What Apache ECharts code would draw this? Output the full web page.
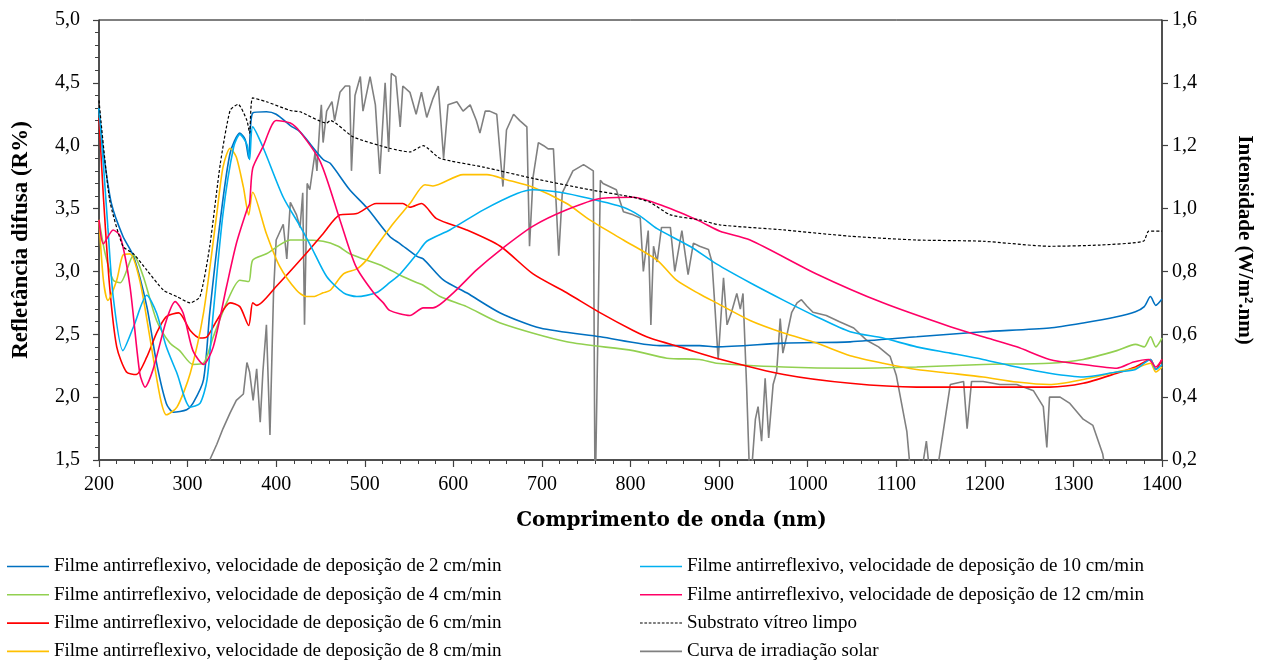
<!DOCTYPE html>
<html>
<head>
<meta charset="utf-8">
<script src="https://cdn.jsdelivr.net/npm/echarts@6/dist/echarts.min.js"></script>
<style>
  html, body { margin: 0; padding: 0; background: #ffffff; }
  #chart { width: 1271px; height: 662px; }
</style>
</head>
<body>
<div id="chart"></div>
<script>
// ---- Axis ticks ----
const xTicks = [200, 300, 400, 500, 600, 700, 800, 900, 1000, 1100, 1200, 1300, 1400];
const leftTicks = [1.5, 2.0, 2.5, 3.0, 3.5, 4.0, 4.5, 5.0];
const rightTicks = [0.2, 0.4, 0.6, 0.8, 1.0, 1.2, 1.4, 1.6];

// ---- Series names ----
const names = [
  'Filme antirreflexivo, velocidade de deposição de 2 cm/min',
  'Filme antirreflexivo, velocidade de deposição de 4 cm/min',
  'Filme antirreflexivo, velocidade de deposição de 6 cm/min',
  'Filme antirreflexivo, velocidade de deposição de 8 cm/min',
  'Filme antirreflexivo, velocidade de deposição de 10 cm/min',
  'Filme antirreflexivo, velocidade de deposição de 12 cm/min',
  'Substrato vítreo limpo',
  'Curva de irradiação solar'
];

// ---- 2 cm/min ----
const wl2 = [200,205,214,227,239,254,265,276,284,299,306,318,325,337,348,359,365,369,373.5,389,400,416,427,453,461,483,502,528,540,559,566,589,615,653,698,766,833,878,897,973,1048,1123,1198,1273,1311,1349,1370,1380,1387,1393,1400];
const r2 = [4.30,3.95,3.54,3.28,3.12,2.72,2.27,1.95,1.88,1.90,1.95,2.14,2.67,3.41,3.94,4.10,4.05,3.90,4.26,4.27,4.25,4.16,4.11,3.89,3.86,3.65,3.51,3.28,3.22,3.12,3.10,2.93,2.83,2.67,2.55,2.48,2.41,2.41,2.40,2.43,2.44,2.48,2.52,2.55,2.59,2.64,2.68,2.72,2.80,2.73,2.78];

// ---- 4 cm/min ----
const wl4 = [200,207,216,224,239,250,265,280,291,306,318,329,344,359,369,373.5,389,416,427,453,470,483,502,521,540,559,566,585,615,653,728,803,841,878,897,973,1048,1123,1198,1273,1311,1349,1370,1380,1387,1393,1400];
const r4 = [3.41,3.14,2.93,2.91,3.13,2.96,2.61,2.43,2.37,2.26,2.27,2.48,2.75,2.93,2.92,3.09,3.14,3.25,3.25,3.24,3.20,3.14,3.09,3.04,2.97,2.91,2.89,2.80,2.72,2.59,2.44,2.37,2.31,2.30,2.27,2.24,2.23,2.24,2.26,2.27,2.30,2.37,2.42,2.40,2.48,2.40,2.47];

// ---- 6 cm/min ----
const wl6 = [200,205,212,220,231,242,254,265,276,290,303,314,322,333,348,359,369,373.5,378,400,431,453,472,491,513,543,551,564,581,615,653,690,728,766,803,822,860,897,973,1048,1123,1198,1273,1311,1349,1370,1387,1393,1400];
const r6 = [4.22,3.59,2.88,2.40,2.20,2.18,2.32,2.51,2.64,2.67,2.53,2.47,2.48,2.61,2.75,2.72,2.57,2.75,2.73,2.88,3.12,3.30,3.45,3.46,3.54,3.54,3.51,3.54,3.42,3.33,3.20,2.98,2.83,2.67,2.53,2.47,2.39,2.31,2.18,2.11,2.08,2.08,2.08,2.11,2.19,2.24,2.30,2.22,2.30];

// ---- 8 cm/min ----
const wl8 = [200,205,210,220,227,235,246,258,269,276,288,303,318,333,340,348,355,363,369,373.5,389,404,423,434,442,453,461,476,491,502,510,532,551,568,577,611,638,660,690,728,754,792,830,852,878,897,935,973,1010,1048,1085,1123,1161,1198,1236,1273,1311,1349,1370,1387,1393,1400];
const r8 = [3.41,2.93,2.77,2.93,3.13,3.14,2.93,2.45,2.00,1.86,1.92,2.19,2.67,3.46,3.83,3.98,3.91,3.67,3.45,3.63,3.30,3.04,2.85,2.80,2.80,2.83,2.85,2.98,3.02,3.09,3.17,3.38,3.54,3.69,3.68,3.77,3.77,3.73,3.67,3.54,3.41,3.25,3.09,2.93,2.82,2.75,2.61,2.51,2.43,2.33,2.27,2.22,2.19,2.16,2.12,2.10,2.14,2.20,2.23,2.27,2.20,2.24];

// ---- 10 cm/min ----
const wl10 = [200,205,210,216,227,239,254,265,276,288,303,314,322,329,340,352,359,367,370,373.5,385,408,427,440,457,476,491,513,528,540,559,570,596,634,672,690,720,754,792,811,830,867,897,935,973,1010,1048,1085,1123,1161,1198,1236,1273,1311,1349,1370,1387,1393,1400];
const r10 = [4.30,3.85,3.35,2.80,2.37,2.56,2.81,2.67,2.40,2.19,1.92,1.95,2.14,2.67,3.46,3.99,4.09,4.01,3.89,4.15,3.99,3.59,3.36,3.19,2.96,2.83,2.80,2.83,2.91,2.98,3.14,3.24,3.33,3.49,3.62,3.65,3.63,3.58,3.51,3.44,3.34,3.20,3.06,2.91,2.77,2.64,2.52,2.47,2.40,2.35,2.30,2.24,2.19,2.16,2.20,2.22,2.30,2.22,2.26];

// ---- 12 cm/min ----
const wl12 = [200,205,216,224,235,246,252,261,276,286,295,306,318,329,344,355,367,370,373.5,385,400,416,427,450,472,490,510,521,528,551,566,577,600,626,653,690,728,766,803,841,878,901,935,1010,1085,1161,1198,1236,1273,1311,1349,1368,1385,1393,1400];
const r12 = [3.41,3.22,3.33,3.28,2.88,2.19,2.08,2.22,2.61,2.76,2.67,2.37,2.26,2.40,2.88,3.22,3.49,3.54,3.82,3.99,4.20,4.18,4.11,3.87,3.41,3.04,2.83,2.75,2.69,2.65,2.71,2.71,2.83,3.01,3.17,3.36,3.49,3.58,3.59,3.51,3.40,3.32,3.25,2.98,2.75,2.56,2.48,2.40,2.30,2.26,2.23,2.28,2.30,2.24,2.30];

// ---- Clean glass substrate ----
const wlSub = [200,212,227,239,254,273,288,303,314,325,337,348,357,367,370,373.5,389,416,427,457,461,487,528,551,566,585,634,690,754,803,822,845,878,901,973,1048,1123,1198,1273,1330,1379,1385,1400];
const rSub = [4.36,3.57,3.20,3.14,3.01,2.85,2.80,2.75,2.80,3.20,3.86,4.28,4.33,4.20,4.10,4.38,4.35,4.28,4.27,4.18,4.20,4.07,3.98,3.95,4.00,3.90,3.83,3.74,3.65,3.59,3.55,3.45,3.41,3.37,3.33,3.28,3.25,3.24,3.20,3.21,3.24,3.32,3.32];

// ---- Solar irradiance (right axis, W/m2.nm) ----
const wlSun = [300,315,325,333,340,348,355,363,367,370,374,378,382,385,389,393,397,400,408,412,416,423,427,430,432,435,438,444,446,449.5,451,453,457,463,466,472,478,483,485,489,495,498,506,512,517,523,527,530,535,540,543,551,558,564,570,577,583,589,594,604,611,619,626,630,636,641,649,656,660,668,675,683,686,690,696,702,707,713,719,723,735,747,758,760,762,766,769,784,792,803,811,814.5,820,823,826,830,835,845,850,858,865,871,878,888,892,895,899,905,909,914,920,924,927,931,935,941,944,948,952,956,961,965,969,972,976,982,988,993,999,1006,1021,1036,1052,1067,1080,1093,1100,1112,1118,1128,1134,1140,1147,1153,1161,1176,1180,1185,1198,1217,1236,1255,1266,1270,1273,1285,1296,1311,1322,1333,1340,1400];
const sun = [0.00,0.10,0.20,0.25,0.30,0.35,0.39,0.41,0.51,0.48,0.39,0.49,0.32,0.48,0.63,0.28,0.73,0.90,0.95,0.84,1.02,0.98,0.94,1.05,0.63,1.08,1.06,1.18,1.12,1.28,1.33,1.21,1.31,1.34,1.28,1.37,1.39,1.39,1.12,1.36,1.42,1.31,1.42,1.33,1.11,1.40,1.18,1.43,1.42,1.26,1.39,1.37,1.30,1.37,1.29,1.35,1.39,1.16,1.33,1.34,1.31,1.33,1.28,1.24,1.31,1.31,1.30,1.07,1.25,1.30,1.28,1.26,0.88,1.10,1.21,1.20,1.19,1.19,0.85,1.05,1.12,1.14,1.12,0.05,0.05,1.09,1.08,1.06,0.99,0.98,0.97,0.80,0.93,0.63,0.88,0.83,0.94,0.94,0.80,0.93,0.79,0.89,0.88,0.87,0.83,0.70,0.52,0.78,0.63,0.67,0.73,0.68,0.73,0.44,0.10,0.33,0.37,0.26,0.46,0.27,0.44,0.48,0.65,0.54,0.59,0.67,0.70,0.71,0.69,0.67,0.66,0.64,0.62,0.58,0.56,0.53,0.47,0.29,0.10,0.15,0.26,0.10,0.18,0.29,0.44,0.45,0.30,0.45,0.45,0.44,0.44,0.42,0.37,0.24,0.40,0.40,0.38,0.33,0.31,0.22,0.10,0.05];

const colors = ['#0070C0', '#92D050', '#FF0000', '#FFC000', '#00B0F0', '#FF0066', '#000000', '#808080'];

function zip(xs, ys) {
  const n = Math.min(xs.length, ys.length);
  const out = [];
  for (let i = 0; i < n; i++) out.push([xs[i], ys[i]]);
  return out;
}

const serif = '"Liberation Serif", "Times New Roman", serif';
const comma = v => v.toFixed(1).replace('.', ',');

// legend icons: a plain line, and a dashed line for the substrate
let dashPath = 'path://';
for (let i = 0; i < 10; i++) {
  const x0 = (i * 4.2).toFixed(1);
  dashPath += 'M' + x0 + ',0h2.6v1h-2.6z';
}
function legendItem(i) {
  return { name: names[i], icon: i === 6 ? dashPath : 'rect' };
}

function reflSeries(idx, xs, ys, extra) {
  return Object.assign({
    name: names[idx],
    type: 'line',
    xAxisIndex: 0,
    yAxisIndex: 0,
    data: zip(xs, ys),
    symbol: 'none',
    smooth: 0.25,
    clip: true,
    lineStyle: { color: colors[idx], width: 1.6 },
    itemStyle: { color: colors[idx] },
    emphasis: { disabled: true }
  }, extra || {});
}

const chart = echarts.init(document.getElementById('chart'), null, { renderer: 'canvas' });

const legendText = { fontFamily: serif, fontSize: 19, color: '#000', lineHeight: 21 };
const legendBase = {
  orient: 'vertical',
  top: 556,
  height: 120,
  padding: 0,
  itemWidth: 42, itemHeight: 1.6, itemGap: 7.3,
  selectedMode: false,
  textStyle: legendText
};

const option = {
  backgroundColor: '#ffffff',
  animation: false,
  grid: {
    left: 99, right: 109, top: 20, bottom: 202,
    show: true, borderColor: '#000', borderWidth: 1, backgroundColor: 'transparent'
  },
  legend: [
    Object.assign({}, legendBase, { left: 7, data: [0, 1, 2, 3].map(legendItem) }),
    Object.assign({}, legendBase, { left: 640, data: [4, 5, 6, 7].map(legendItem) })
  ],
  xAxis: {
    type: 'value',
    min: xTicks[0], max: xTicks[xTicks.length - 1], interval: 100,
    name: 'Comprimento de onda (nm)',
    nameLocation: 'middle', nameGap: 51,
    nameTextStyle: {
      fontFamily: '"DejaVu Serif", serif', fontWeight: 'bold', fontSize: 20, color: '#000',
      padding: [0, 0, 0, 82]
    },
    axisLine: { show: true, onZero: false, lineStyle: { color: '#404040', width: 1.5 } },
    axisTick: { show: true, inside: false, length: 7, lineStyle: { color: '#404040', width: 1.2 } },
    minorTick: { show: true, splitNumber: 5, length: 4, lineStyle: { color: '#404040', width: 1 } },
    axisLabel: { fontFamily: serif, fontSize: 20, color: '#000', margin: 15, formatter: v => String(v) },
    splitLine: { show: false }
  },
  yAxis: [
    {
      type: 'value',
      position: 'left',
      min: leftTicks[0], max: leftTicks[leftTicks.length - 1], interval: 0.5,
      name: 'Refletância difusa (R%)',
      nameLocation: 'middle', nameGap: 66, nameRotate: 90,
      nameTextStyle: { fontFamily: serif, fontWeight: 'bold', fontSize: 23, color: '#000' },
      axisLine: { show: true, onZero: false, lineStyle: { color: '#404040', width: 1.5 } },
      axisTick: { show: true, inside: false, length: 6, lineStyle: { color: '#404040', width: 1.2 } },
      minorTick: { show: true, splitNumber: 5, length: 4, lineStyle: { color: '#404040', width: 1 } },
      axisLabel: { fontFamily: serif, fontSize: 20, color: '#000', margin: 19, formatter: comma },
      splitLine: { show: false }
    },
    {
      type: 'value',
      position: 'right',
      min: rightTicks[0], max: rightTicks[rightTicks.length - 1], interval: 0.2,
      name: 'Intensidade (W/m².nm)',
      nameLocation: 'middle', nameGap: 72, nameRotate: -90,
      nameTextStyle: { fontFamily: serif, fontWeight: 'bold', fontSize: 21, color: '#000' },
      axisLine: { show: true, onZero: false, lineStyle: { color: '#404040', width: 1.5 } },
      axisTick: { show: true, inside: false, length: 6, lineStyle: { color: '#404040', width: 1.2 } },
      axisLabel: { fontFamily: serif, fontSize: 20, color: '#000', margin: 10, formatter: comma },
      splitLine: { show: false }
    }
  ],
  series: [
    {
      name: names[7],
      type: 'line',
      xAxisIndex: 0,
      yAxisIndex: 1,
      data: zip(wlSun, sun),
      symbol: 'none',
      clip: true,
      z: 1,
      lineStyle: { color: colors[7], width: 1.6 },
      itemStyle: { color: colors[7] },
      emphasis: { disabled: true }
    },
    reflSeries(0, wl2, r2),
    reflSeries(1, wl4, r4),
    reflSeries(2, wl6, r6),
    reflSeries(3, wl8, r8),
    reflSeries(4, wl10, r10),
    reflSeries(5, wl12, r12),
    reflSeries(6, wlSub, rSub, {
      smooth: 0.2,
      lineStyle: { color: '#000', width: 1.2, type: [3, 2] }
    })
  ]
};

chart.setOption(option);
</script>
</body>
</html>
